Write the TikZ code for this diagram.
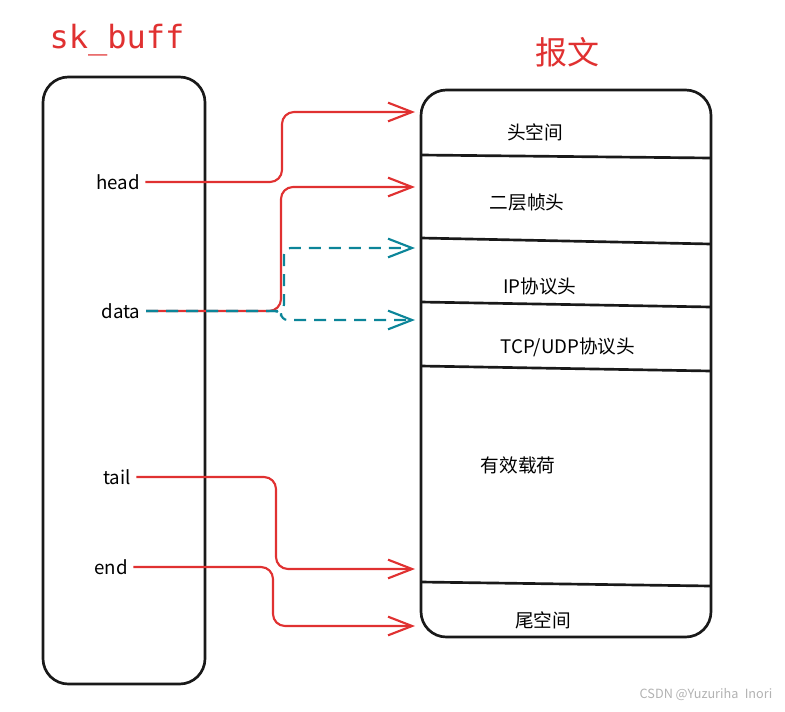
\documentclass[tikz,border=0pt]{standalone}
\usepackage{fontspec}
\setmainfont{Noto Sans CJK SC}
\newfontfamily\skmono{DejaVu Sans Mono}
\usetikzlibrary{arrows.meta, positioning}

\definecolor{skred}{HTML}{E03131}
\definecolor{skteal}{HTML}{0C8599}

\tikzset{
    box/.style={draw=black!90, line width=2pt, rounded corners=19pt},
    divider/.style={draw=black!90, line width=2pt},
    field/.style={font=\fontsize{14}{16}\selectfont},
    ptr/.style={font=\fontsize{14}{16}\selectfont, inner sep=4pt},
    tip/.style={-{Straight Barb[length=18pt,width=14pt]}},
    redline/.style={draw=skred, line width=1.6pt, rounded corners=9pt, tip},
    tealline/.style={draw=skteal, line width=1.6pt, dash pattern=on 9pt off 6pt, rounded corners=5pt, tip}
}

\begin{document}
\begin{tikzpicture}[x=0.75pt, y=-0.75pt]
    \useasboundingbox (0,0) rectangle (785,711);

    % Titles
    \node[text=skred, font=\skmono\fontsize{24}{28}\selectfont] (skbtitle) at (117,40) {sk\_buff};
    \node[text=skred, font=\fontsize{24}{28}\selectfont] (pkttitle) at (567,52) {报文};

    % Boxes
    \draw[box] (43,77) rectangle (205,684);
    \draw[box] (421,90) rectangle (711,637);

    % Packet fields
    \draw[divider] (421,155) -- (711,158);
    \draw[divider] (421,238) -- (711,244);
    \draw[divider] (421,302) -- (711,307);
    \draw[divider] (421,366) -- (711,371);
    \draw[divider] (421,582) -- (711,586);

    \node[field] (headroom) at (535,132) {头空间};
    \node[field] (l2hdr) at (527,202) {二层帧头};
    \node[field] (iphdr) at (540,286) {IP协议头};
    \node[field] (tcphdr) at (568,347) {TCP/UDP协议头};
    \node[field] (payload) at (518,465) {有效载荷};
    \node[field] (tailroom) at (543,620) {尾空间};

    % Pointer labels
    \node[ptr] (headlbl) at (118,182) {head};
    \node[ptr] (datalbl) at (121,311) {data};
    \node[ptr] (taillbl) at (117,477) {tail};
    \node[ptr] (endlbl) at (111,567) {end};

    % Arrow targets
    \coordinate (thead) at (415,112);
    \coordinate (tl2) at (415,187);
    \coordinate (tip) at (415,248);
    \coordinate (ttcp) at (415,320);
    \coordinate (tpay) at (415,569);
    \coordinate (ttail) at (415,626);

    % Pointers
    \draw[redline] (headlbl.east) -| (282,112) -- (thead);
    \draw[redline] (datalbl.east) -| (281,187) -- (tl2);
    \draw[tealline] (datalbl.east) -| (284,248) -- (tip);
    \draw[tealline] (datalbl.east) -| (281,320) -- (ttcp);
    \draw[redline] (taillbl.east) -| (276,569) -- (tpay);
    \draw[redline] (endlbl.east) -| (273,626) -- (ttail);

    % Watermark
    \node[text=gray!60, font=\fontsize{9.5}{11}\selectfont] (mark) at (706,695) {CSDN @Yuzuriha\enspace Inori};
\end{tikzpicture}
\end{document}
